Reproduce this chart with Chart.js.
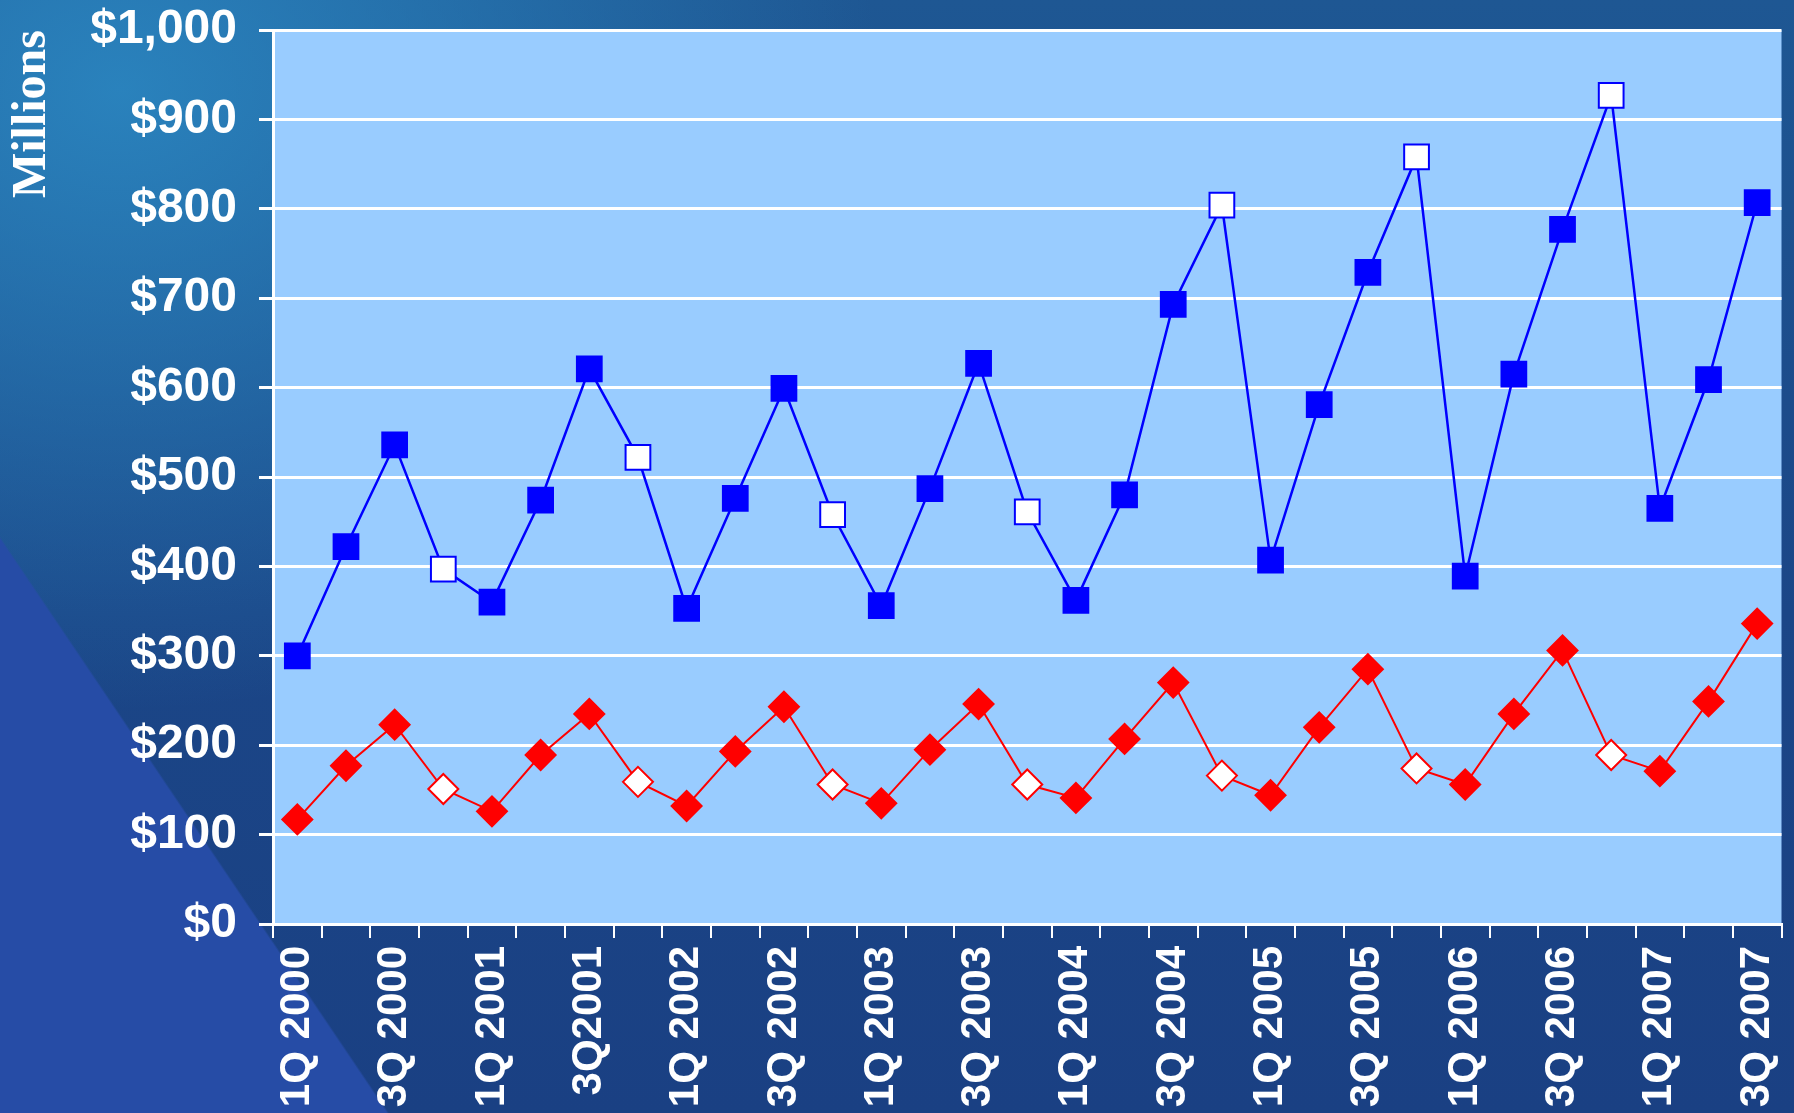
<!DOCTYPE html>
<html>
<head>
<meta charset="utf-8">
<script src="https://cdn.jsdelivr.net/npm/chart.js@4.4.1/dist/chart.umd.min.js"></script>
<style>
  html, body { margin: 0; padding: 0; }
  body {
    width: 1794px; height: 1113px; overflow: hidden;
    background:
      linear-gradient(236deg, rgba(38,76,166,0) 0, rgba(38,76,166,0) 1787px, #264ca6 1789px),
      radial-gradient(ellipse 760px 620px at 120px 90px, rgba(44,138,196,0.85) 0%, rgba(44,138,196,0) 100%),
      linear-gradient(180deg, #1e5793 0%, #1b4687 55%, #1a4083 100%);
  }
  #wrap { position: absolute; left: 0; top: 0; width: 1794px; height: 1113px; overflow: hidden; }
</style>
</head>
<body>
<div id="wrap"><canvas id="grafico" width="1801" height="1113"></canvas></div>
<script>
// trimestri (etichette asse x)
var quarters = [
  '1Q 2000', '2Q 2000', '3Q 2000', '4Q 2000',
  '1Q 2001', '2Q 2001', '3Q2001', '4Q 2001',
  '1Q 2002', '2Q 2002', '3Q 2002', '4Q 2002',
  '1Q 2003', '2Q 2003', '3Q 2003', '4Q 2003',
  '1Q 2004', '2Q 2004', '3Q 2004', '4Q 2004',
  '1Q 2005', '2Q 2005', '3Q 2005', '4Q 2005',
  '1Q 2006', '2Q 2006', '3Q 2006', '4Q 2006',
  '1Q 2007', '2Q 2007', '3Q 2007'
];

// serie blu (quadrati), milioni di dollari
var blueValues = [
  300, 422, 536, 397, 360, 474, 621, 522, 353, 476, 599, 458,
  356, 487, 627, 461, 362, 480, 693, 804, 407, 581, 729, 858,
  389, 615, 777, 927, 465, 609, 807
];

// serie rossa (rombi), milioni di dollari
var redValues = [
  117, 177, 223, 151, 126, 189, 235, 159, 132, 193, 243, 156,
  135, 195, 246, 156, 141, 207, 270, 166, 144, 220, 285, 174,
  156, 235, 306, 189, 171, 249, 336
];

var yTicksMax = 1000;
var yTicksStep = 100;

// i punti del 4Q sono vuoti (bianchi)
function isOpen(ctx) {
  return quarters[ctx.dataIndex].indexOf('4Q') === 0;
}

// sfondo dell'area del grafico
var plotBg = {
  id: 'plotBg',
  beforeDraw: function (chart) {
    var a = chart.chartArea;
    var c = chart.ctx;
    c.save();
    c.fillStyle = '#99CCFF';
    c.fillRect(a.left, a.top, a.right - a.left, a.bottom - a.top);
    c.restore();
  }
};

var ctx = document.getElementById('grafico').getContext('2d');
var grafico = new Chart(ctx, {
  type: 'line',
  data: {
    labels: quarters,
    datasets: [{
      label: 'Blue',
      data: blueValues,
      borderColor: '#0000FF',
      borderWidth: 2.5,
      pointStyle: 'rect',
      pointRadius: 17.5,
      pointBorderWidth: 2,
      pointBorderColor: '#0000FF',
      pointBackgroundColor: function (c) { return isOpen(c) ? '#FFFFFF' : '#0000FF'; },
      tension: 0
    }, {
      label: 'Red',
      data: redValues,
      borderColor: '#FF0000',
      borderWidth: 2,
      pointStyle: 'rectRot',
      pointRadius: 15,
      pointBorderWidth: 2,
      pointBorderColor: '#FF0000',
      pointBackgroundColor: function (c) { return isOpen(c) ? '#FFFFFF' : '#FF0000'; },
      tension: 0
    }]
  },
  options: {
    responsive: false,
    animation: false,
    layout: { padding: { left: 0, right: 3, top: 30, bottom: 0 } },
    plugins: {
      legend: { display: false },
      tooltip: { enabled: false }
    },
    scales: {
      x: {
        offset: true,
        grid: {
          offset: true,
          drawOnChartArea: false,
          color: '#FFFFFF',
          tickColor: '#FFFFFF',
          tickLength: 14,
          lineWidth: 2
        },
        border: { color: '#FFFFFF', width: 3 },
        ticks: {
          autoSkip: false,
          minRotation: 90,
          maxRotation: 90,
          padding: 8,
          color: '#FFFFFF',
          font: { family: 'Liberation Sans, Arial', size: 42, weight: 'bold' },
          callback: function (val, i) { return i % 2 === 0 ? this.getLabelForValue(val) : ''; }
        },
        afterFit: function (scale) {
          scale.height = 189;
          scale.paddingLeft = 0;
          scale.paddingRight = 0;
        }
      },
      y: {
        min: 0,
        max: yTicksMax,
        grid: {
          color: '#FFFFFF',
          tickColor: '#FFFFFF',
          tickLength: 14,
          lineWidth: 3
        },
        border: { color: '#FFFFFF', width: 3 },
        ticks: {
          stepSize: yTicksStep,
          padding: 22,
          color: '#FFFFFF',
          font: { family: 'Liberation Sans, Arial', size: 48, weight: 'bold' },
          callback: function (v) { return '$' + v.toLocaleString('en-US'); }
        },
        title: {
          display: true,
          text: 'Millions',
          align: 'end',
          color: '#FFFFFF',
          padding: { top: 4, bottom: 0 },
          font: { family: 'Liberation Serif, Times New Roman', size: 48, weight: 'bold' }
        },
        afterFit: function (scale) {
          scale.width = 273;
          scale.paddingTop = 0;
          scale.paddingBottom = 0;
        }
      }
    }
  },
  plugins: [plotBg]
});
</script>
</body>
</html>
